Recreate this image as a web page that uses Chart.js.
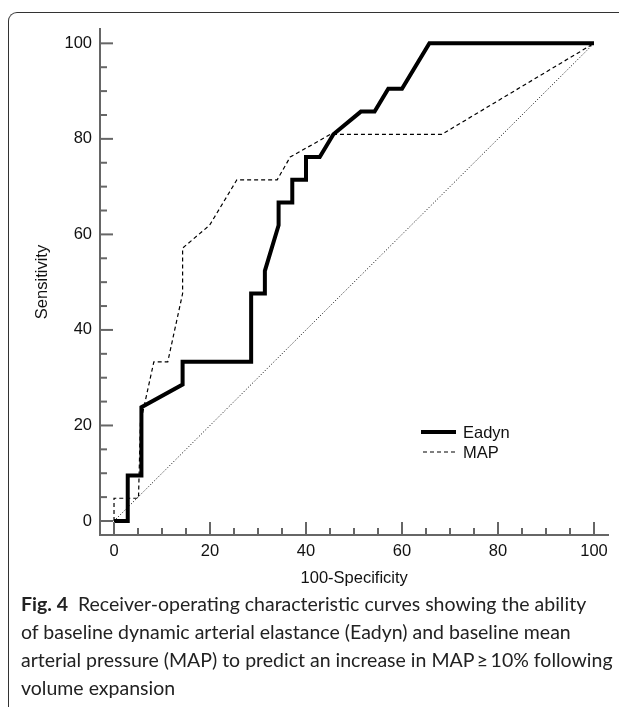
<!DOCTYPE html>
<html>
<head>
<meta charset="utf-8">
<script src="https://cdn.jsdelivr.net/npm/chart.js@4.4.1/dist/chart.umd.min.js"></script>
<style>
  body { margin: 0; background: #fff; }
  .frame {
    position: absolute; left: 8px; top: 12px; width: 640px; height: 694px;
    border-top: 1px solid #333; border-left: 1px solid #333;
    border-top-left-radius: 9px;
  }
  #wrap { position: absolute; left: 0; top: 0; width: 619px; height: 595px; }
  .caption {
    position: absolute; left: 21px; top: 590px;
    font-family: Lato, "Open Sans", sans-serif; font-size: 19.5px; line-height: 28px;
    color: #222; white-space: nowrap;
  }
  .caption b { font-weight: 700; margin-right: 5px; }
</style>
</head>
<body>
<div class="frame"></div>
<div id="wrap"><canvas id="roc" width="619" height="595"></canvas></div>
<div class="caption"><b>Fig. 4</b> Receiver-operating characteristic curves showing the ability<br>of baseline dynamic arterial elastance (Eadyn) and baseline mean<br>arterial pressure (MAP) to predict an increase in MAP&thinsp;&ge;&thinsp;10% following<br>volume expansion</div>

<script>
// ROC points (100-specificity, sensitivity)
const eadynX = [0, 2.86, 2.86, 5.71, 5.71, 14.29, 14.29, 28.57, 28.57, 31.43, 31.43, 34.29, 34.29, 37.14, 37.14, 40, 40, 42.86, 45.71, 51.43, 54.29, 57.14, 60, 65.71, 100];
const eadynY = [0, 0, 9.52, 9.52, 23.81, 28.57, 33.33, 33.33, 47.62, 47.62, 52.38, 61.9, 66.67, 66.67, 71.43, 71.43, 76.19, 76.19, 80.95, 85.71, 85.71, 90.48, 90.48, 100, 100];

const mapX = [0, 0, 5.1, 5.5, 8.3, 11.2, 14.29, 14.29, 19.9, 25.6, 34, 36.7, 45.1, 68.3, 100];
const mapY = [0, 4.76, 4.76, 20.5, 33.33, 33.33, 47.62, 57.14, 61.9, 71.43, 71.43, 76.19, 80.95, 80.95, 100];

const refX = [0, 100];
const refY = [0, 100];

const xTicks = [0, 20, 40, 60, 80, 100];
const yTicks = [0, 20, 40, 60, 80, 100];
const minorStep = 5;

function pts(xs, ys) {
  return xs.map((x, i) => ({ x: x, y: ys[i] }));
}

const axisGray = '#666';
const fontFam = '"Liberation Sans", Arial, sans-serif';

// inward tick marks, major every 20, minor every 5
const tickMarks = {
  id: 'tickMarks',
  afterDraw(chart) {
    const c = chart.ctx;
    const sx = chart.scales.x, sy = chart.scales.y;
    const left = chart.chartArea.left, bottom = chart.chartArea.bottom;
    c.save();
    c.strokeStyle = axisGray;
    c.lineWidth = 2;
    for (let v = 0; v <= 100; v += minorStep) {
      const len = v % 20 === 0 ? 13 : 7;
      const px = sx.getPixelForValue(v);
      c.beginPath(); c.moveTo(px, bottom); c.lineTo(px, bottom - len); c.stroke();
      const py = sy.getPixelForValue(v);
      c.beginPath(); c.moveTo(left, py); c.lineTo(left + len, py); c.stroke();
    }
    c.restore();

    // legend
    const items = [
      { label: 'Eadyn', ds: chart.data.datasets[2], y: 432, x0: 421, x1: 456 },
      { label: 'MAP', ds: chart.data.datasets[1], y: 452, x0: 423, x1: 455 }
    ];
    c.save();
    c.font = '16.5px ' + fontFam;
    c.textBaseline = 'middle';
    c.fillStyle = '#111';
    items.forEach(it => {
      c.strokeStyle = it.ds.borderColor;
      c.lineWidth = it.ds.borderWidth;
      c.setLineDash(it.ds.borderDash || []);
      c.beginPath(); c.moveTo(it.x0, it.y); c.lineTo(it.x1, it.y); c.stroke();
      c.setLineDash([]);
      c.fillText(it.label, 463, it.y + 1);
    });
    c.restore();
  }
};

const ctx = document.getElementById('roc').getContext('2d');

new Chart(ctx, {
  type: 'scatter',
  data: {
    datasets: [
      {
        label: 'Reference',
        data: pts(refX, refY),
        showLine: true,
        borderColor: '#000',
        borderWidth: 1,
        borderDash: [1, 2],
        pointRadius: 0
      },
      {
        label: 'MAP',
        data: pts(mapX, mapY),
        showLine: true,
        borderColor: '#000',
        borderWidth: 1.2,
        borderDash: [4, 3],
        pointRadius: 0
      },
      {
        label: 'Eadyn',
        data: pts(eadynX, eadynY),
        showLine: true,
        borderColor: '#000',
        borderWidth: 4,
        borderJoinStyle: 'miter',
        pointRadius: 0
      }
    ]
  },
  options: {
    responsive: false,
    animation: false,
    devicePixelRatio: 1,
    layout: { padding: { top: 29, right: 10.6, left: 0, bottom: 0 } },
    plugins: { legend: { display: false }, tooltip: { enabled: false } },
    scales: {
      x: {
        type: 'linear',
        min: -2.92,
        max: 103,
        afterBuildTicks: s => { s.ticks = xTicks.map(v => ({ value: v })); },
        afterFit: s => { s.height = 60; },
        grid: { display: false, drawTicks: false },
        border: { display: true, color: axisGray, width: 2 },
        ticks: {
          padding: 7,
          color: '#111',
          font: { family: fontFam, size: 16.5 }
        },
        title: {
          display: true,
          text: '100-Specificity',
          color: '#111',
          padding: { top: 0, bottom: 7 },
          font: { family: fontFam, size: 16.5 }
        }
      },
      y: {
        type: 'linear',
        min: -2.93,
        max: 103,
        afterBuildTicks: s => { s.ticks = yTicks.map(v => ({ value: v })); },
        afterFit: s => { s.width = 100; },
        grid: { display: false, drawTicks: false },
        border: { display: true, color: axisGray, width: 2 },
        ticks: {
          padding: 8,
          color: '#111',
          font: { family: fontFam, size: 16.5 }
        },
        title: {
          display: true,
          text: 'Sensitivity',
          color: '#111',
          padding: { top: 33, bottom: 0 },
          font: { family: fontFam, size: 16.5 }
        }
      }
    }
  },
  plugins: [tickMarks]
});
</script>
</body>
</html>
